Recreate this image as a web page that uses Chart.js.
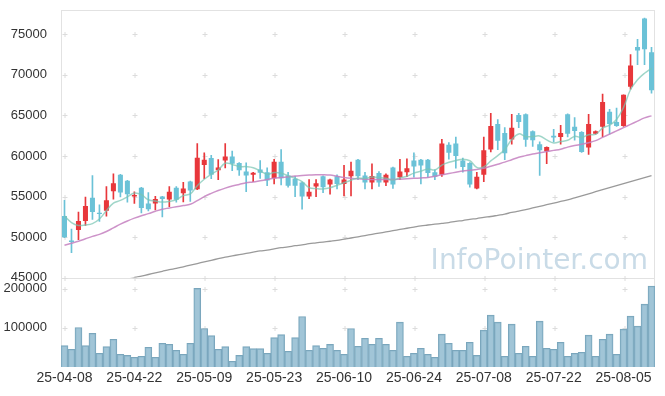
<!DOCTYPE html>
<html>
<head>
<meta charset="utf-8">
<script src="https://cdn.jsdelivr.net/npm/chart.js@4.4.1/dist/chart.umd.min.js"></script>
<style>
  html, body { margin: 0; padding: 0; background: #fff; }
  #wrap { width: 665px; height: 396px; position: relative; }
</style>
</head>
<body>
<div id="wrap"><canvas id="stockChart"></canvas></div>
<script>
const dates = [
  "25-04-08", "25-04-09", "25-04-10", "25-04-11", "25-04-14", "25-04-15", "25-04-16", "25-04-17", "25-04-18", "25-04-21",
  "25-04-22", "25-04-23", "25-04-24", "25-04-25", "25-04-28", "25-04-29", "25-04-30", "25-05-02", "25-05-07", "25-05-08",
  "25-05-09", "25-05-12", "25-05-13", "25-05-14", "25-05-15", "25-05-16", "25-05-19", "25-05-20", "25-05-21", "25-05-22",
  "25-05-23", "25-05-26", "25-05-27", "25-05-28", "25-05-29", "25-05-30", "25-06-02", "25-06-04", "25-06-05", "25-06-09",
  "25-06-10", "25-06-11", "25-06-12", "25-06-13", "25-06-16", "25-06-17", "25-06-18", "25-06-19", "25-06-20", "25-06-23",
  "25-06-24", "25-06-25", "25-06-26", "25-06-27", "25-06-30", "25-07-01", "25-07-02", "25-07-03", "25-07-04", "25-07-07",
  "25-07-08", "25-07-09", "25-07-10", "25-07-11", "25-07-14", "25-07-15", "25-07-16", "25-07-17", "25-07-18", "25-07-21",
  "25-07-22", "25-07-23", "25-07-24", "25-07-25", "25-07-28", "25-07-29", "25-07-30", "25-07-31", "25-08-01", "25-08-04",
  "25-08-05", "25-08-06", "25-08-07", "25-08-08", "25-08-11"
];

const opens = [
  52600, 49600, 50900, 52000, 54850, 53000, 53250, 55650, 57700, 56950,
  55000, 56100, 54150, 54150, 55000, 54650, 56100, 55400, 56850, 55900,
  58900, 59750, 58250, 59450, 59950, 59150, 58100, 57700, 58350, 58000,
  57250, 59300, 57600, 57200, 56750, 55000, 56250, 57500, 56500, 57500,
  56550, 57500, 59550, 57600, 56750, 57900, 56750, 58600, 57400, 58000,
  59450, 59550, 59550, 58000, 57700, 61400, 61550, 59450, 59150, 56000,
  57700, 60800, 63950, 62850, 62050, 65050, 65150, 63050, 61450, 60600,
  62500, 62350, 65150, 63600, 62950, 61050, 62750, 63600, 65450, 64200,
  63700, 68550, 73450, 76950, 72800
];
const highs = [
  54550, 51000, 53100, 54950, 57600, 54000, 56250, 57800, 57750, 57000,
  55600, 56150, 55500, 55050, 55050, 56250, 56250, 56750, 56900, 61550,
  60400, 60100, 59550, 61550, 60600, 59200, 59150, 58000, 59450, 58550,
  59600, 60800, 58000, 57500, 56800, 57100, 57100, 57550, 57150, 57700,
  58850, 59250, 59600, 58000, 59050, 58100, 57800, 58650, 59600, 59650,
  60400, 59600, 59600, 58300, 62050, 61650, 62350, 59750, 59200, 58000,
  62350, 65250, 64500, 63500, 65150, 65250, 65200, 63100, 61750, 61150,
  63300, 63800, 65200, 64750, 63000, 65150, 63100, 67650, 65750, 65900,
  67550, 72500, 74400, 77000, 73400
];
const lows = [
  49950, 48100, 49700, 51450, 52200, 51950, 52600, 54700, 54950, 54300,
  54150, 53000, 53250, 53350, 52500, 53750, 54300, 54350, 54400, 55850,
  57200, 57200, 57100, 58550, 58200, 57600, 55600, 56850, 57250, 56350,
  56550, 56450, 56150, 55000, 53450, 54750, 55000, 55500, 55300, 55950,
  55100, 55100, 57100, 55950, 55950, 56250, 56350, 56000, 57100, 57450,
  57400, 56550, 57400, 57100, 57500, 59600, 58500, 58000, 56150, 55950,
  56850, 60500, 60800, 59550, 61450, 63500, 61200, 61200, 57600, 59050,
  61750, 61450, 62350, 61950, 60450, 60200, 62700, 62400, 62700, 63650,
  63650, 68250, 71250, 71250, 67750
];
const closes = [
  50000, 49400, 52000, 53850, 53100, 52850, 54550, 56650, 55500, 55300,
  55200, 53600, 53450, 54700, 54700, 55600, 54600, 56000, 55750, 59800,
  59550, 57700, 58600, 59950, 59050, 58250, 57600, 57950, 57950, 57000,
  59300, 57250, 56350, 56350, 55000, 55600, 56650, 56150, 57100, 56550,
  57100, 58200, 57500, 56750, 57550, 56750, 57700, 56500, 58100, 58500,
  58700, 58850, 57900, 57450, 61550, 60400, 60000, 58650, 56500, 57450,
  60700, 63700, 61900, 60350, 63500, 64200, 62000, 61950, 60700, 61100,
  62300, 62850, 62750, 63100, 60500, 63950, 63050, 66650, 63950, 63700,
  67550, 71150, 73000, 73150, 68100
];
const volumes = [
  54600, 45300, 100800, 54600, 86300, 35100, 52100, 71000, 32500, 29900,
  24800, 27400, 50400, 24800, 60700, 58100, 42700, 32500, 60700, 200800,
  98300, 80300, 45300, 52100, 14600, 29900, 52100, 46900, 46900, 35100,
  75100, 82800, 40300, 75100, 129000, 42700, 54600, 47900, 57600, 42700,
  32500, 98300, 53100, 73500, 58100, 73500, 58100, 42700, 114600, 27400,
  35100, 47900, 32500, 24800, 83800, 60700, 42700, 42700, 63300, 29900,
  94000, 132500, 114600, 27400, 109400, 35100, 53100, 27400, 117200, 47900,
  45300, 63300, 27400, 35100, 37700, 81300, 27400, 71000, 83800, 32500,
  96700, 130000, 104400, 160800, 207000
];
const ma5 = [
  52600, 51800, 51450, 51500, 51670, 52240, 53270, 54200, 54530, 54970,
  55440, 55250, 54610, 54450, 54330, 54410, 54610, 55120, 55330, 56350,
  57140, 57760, 58280, 59120, 58970, 58710, 58690, 58560, 58160, 57750,
  57960, 57890, 57570, 57250, 56850, 56110, 55990, 55950, 56100, 56410,
  56710, 57020, 57290, 57220, 57420, 57350, 57250, 57050, 57320, 57510,
  57900, 58130, 58410, 58280, 58890, 59230, 59460, 59610, 59420, 58600,
  58660, 59400, 60050, 60820, 62030, 62730, 62390, 62400, 62470, 61990,
  61610, 61780, 61940, 62420, 62300, 62630, 62670, 63450, 63800, 64500,
  66000, 68200, 69400, 70200, 70800
];
const ma20 = [
  49000, 49250, 49500, 49800, 50100, 50350, 50700, 51150, 51600, 52000,
  52350, 52650, 52900, 53200, 53450, 53600, 53750, 53900, 54050, 54500,
  55000, 55400, 55750, 56050, 56300, 56500, 56700, 56800, 56950, 57100,
  57250, 57350, 57450, 57550, 57600, 57650, 57700, 57700, 57650, 57500,
  57350, 57250, 57200, 57150, 57100, 57100, 57100, 57100, 57150, 57200,
  57250, 57300, 57350, 57500, 57700, 57850, 58000, 58150, 58250, 58350,
  58500, 58750, 59000, 59250, 59550, 59850, 60050, 60250, 60400, 60550,
  60700, 60850, 61100, 61300, 61450, 61650, 61900, 62300, 62700, 63100,
  63500, 63900, 64300, 64700, 64950
];
const ma120 = [
  43100, 43300, 43500, 43700, 43900, 44100, 44300, 44500, 44700, 44850,
  45000, 45200, 45400, 45600, 45800, 46000, 46150, 46350, 46550, 46750,
  46950, 47150, 47350, 47550, 47700, 47850, 48000, 48150, 48300, 48400,
  48550, 48700, 48800, 48950, 49050, 49200, 49300, 49400, 49500, 49600,
  49750, 49900, 50050, 50200, 50350, 50500, 50650, 50800, 50950, 51100,
  51250, 51400, 51500, 51600, 51700, 51800, 51950, 52050, 52200, 52300,
  52450, 52550, 52700, 52850, 53050, 53200, 53400, 53600, 53800, 54000,
  54200, 54400, 54600, 54850, 55100, 55350, 55600, 55850, 56100, 56350,
  56600, 56850, 57100, 57350, 57600
];
const priceTicks = [45000, 50000, 55000, 60000, 65000, 70000, 75000];
const volumeTicks = [100000, 200000];

const UP = "#e8373b";
const DOWN = "#6bc2d7";
const candleColors = opens.map((o, i) => closes[i] >= o ? UP : DOWN);

// lines must stay inside the price pane
const priceClip = {
  id: "priceClip",
  beforeDatasetDraw(chart, args) {
    if (args.meta.type !== "line") return;
    const { ctx, chartArea } = chart;
    const y = chart.scales.y;
    ctx.save();
    ctx.beginPath();
    ctx.rect(chartArea.left, y.top, chartArea.right - chartArea.left, y.bottom - y.top);
    ctx.clip();
  },
  afterDatasetDraw(chart, args) {
    if (args.meta.type !== "line") return;
    chart.ctx.restore();
  }
};

// frame, cross marks and watermark
const frame = {
  id: "frame",
  beforeDatasetsDraw(chart) {
    const { ctx, chartArea: a, scales } = chart;
    const x = scales.x, y = scales.y, v = scales.vol;
    ctx.save();

    ctx.font = "28px 'DejaVu Sans'";
    ctx.fillStyle = "#c9dbe7";
    ctx.textAlign = "right";
    ctx.textBaseline = "alphabetic";
    ctx.fillText("InfoPointer.com", a.right - 7, y.bottom - 9);

    ctx.strokeStyle = "#e2e2e2";
    ctx.lineWidth = 1;
    ctx.beginPath();
    ctx.moveTo(a.left + 0.5, a.top);
    ctx.lineTo(a.left + 0.5, a.bottom);
    ctx.moveTo(a.left, a.top + 0.5);
    ctx.lineTo(a.right, a.top + 0.5);
    ctx.moveTo(a.right - 0.5, a.top);
    ctx.lineTo(a.right - 0.5, a.bottom);
    ctx.moveTo(a.left, Math.round(y.bottom) + 0.5);
    ctx.lineTo(a.right, Math.round(y.bottom) + 0.5);
    ctx.stroke();

    const xs = [];
    dates.forEach((d, i) => { if (i % 10 === 0) xs.push(x.getPixelForValue(i)); });
    const ys = priceTicks.map(t => y.getPixelForValue(t))
      .concat(volumeTicks.map(t => v.getPixelForValue(t)));
    ctx.strokeStyle = "#dcdcdc";
    ctx.beginPath();
    xs.forEach(px => {
      ys.forEach(py => {
        const cx = Math.round(px) + 0.5, cy = Math.round(py) + 0.5;
        ctx.moveTo(cx - 2, cy);
        ctx.lineTo(cx + 3, cy);
        ctx.moveTo(cx + 0.5, cy - 2.5);
        ctx.lineTo(cx + 0.5, cy + 2.5);
      });
    });
    ctx.stroke();
    ctx.restore();
  }
};

const tickFont = { family: "'Liberation Sans', Arial, sans-serif", size: 13 };

const fitLeftAxis = scale => {
  scale.width = 61;
  scale.paddingTop = 0;
  scale.paddingBottom = 0;
};

new Chart(document.getElementById("stockChart"), {
  data: {
    labels: dates,
    datasets: [
      {
        type: "line", label: "MA5", data: ma5, yAxisID: "y", order: 0,
        borderColor: "rgba(120,196,178,0.7)", borderWidth: 1.5, pointRadius: 0, tension: 0.4
      },
      {
        type: "line", label: "MA20", data: ma20, yAxisID: "y", order: 0,
        borderColor: "rgba(196,128,192,0.85)", borderWidth: 1.5, pointRadius: 0, tension: 0.4
      },
      {
        type: "line", label: "MA120", data: ma120, yAxisID: "y", order: 0,
        borderColor: "#9a9a9a", borderWidth: 1.3, pointRadius: 0, tension: 0.4
      },
      {
        type: "bar", label: "body", yAxisID: "y", order: 1, grouped: false,
        data: opens.map((o, i) => [o, closes[i]]),
        backgroundColor: candleColors, borderWidth: 0,
        barPercentage: 0.72, categoryPercentage: 1, minBarLength: 1
      },
      {
        type: "bar", label: "wick", yAxisID: "y", order: 2, grouped: false,
        data: lows.map((l, i) => [l, highs[i]]),
        backgroundColor: candleColors, borderWidth: 0,
        barThickness: 1, categoryPercentage: 1
      },
      {
        type: "bar", label: "volume", yAxisID: "vol", order: 3, grouped: false,
        data: volumes,
        backgroundColor: "rgba(145,187,208,0.85)", borderColor: "#7aa6bc", borderWidth: 1,
        barPercentage: 1, categoryPercentage: 1
      }
    ]
  },
  options: {
    responsive: true,
    maintainAspectRatio: false,
    animation: false,
    events: [],
    layout: { padding: { top: 10, right: 10, left: 0, bottom: 0 } },
    plugins: { legend: { display: false }, tooltip: { enabled: false } },
    scales: {
      x: {
        type: "category",
        offset: true,
        grid: { display: false, drawTicks: false },
        border: { display: false },
        afterFit: scale => { scale.height = 29; },
        ticks: {
          autoSkip: false, maxRotation: 0, padding: 3,
          color: "#333", font: { family: tickFont.family, size: 14 },
          callback: (val, idx) => idx % 10 === 0 ? dates[idx] : ""
        }
      },
      vol: {
        position: "left",
        stack: "pane",
        stackWeight: 1,
        min: 0,
        max: 228000,
        grid: { display: false },
        border: { display: false },
        afterFit: fitLeftAxis,
        afterBuildTicks: scale => { scale.ticks = volumeTicks.map(value => ({ value })); },
        ticks: { color: "#333", font: tickFont, padding: 6, callback: val => String(val) }
      },
      y: {
        position: "left",
        stack: "pane",
        stackWeight: 3,
        min: 45000,
        max: 78000,
        grid: { display: false },
        border: { display: false },
        afterFit: fitLeftAxis,
        afterBuildTicks: scale => { scale.ticks = priceTicks.map(value => ({ value })); },
        ticks: { color: "#333", font: tickFont, padding: 6, callback: val => String(val) }
      }
    }
  },
  plugins: [priceClip, frame]
});
</script>
</body>
</html>
